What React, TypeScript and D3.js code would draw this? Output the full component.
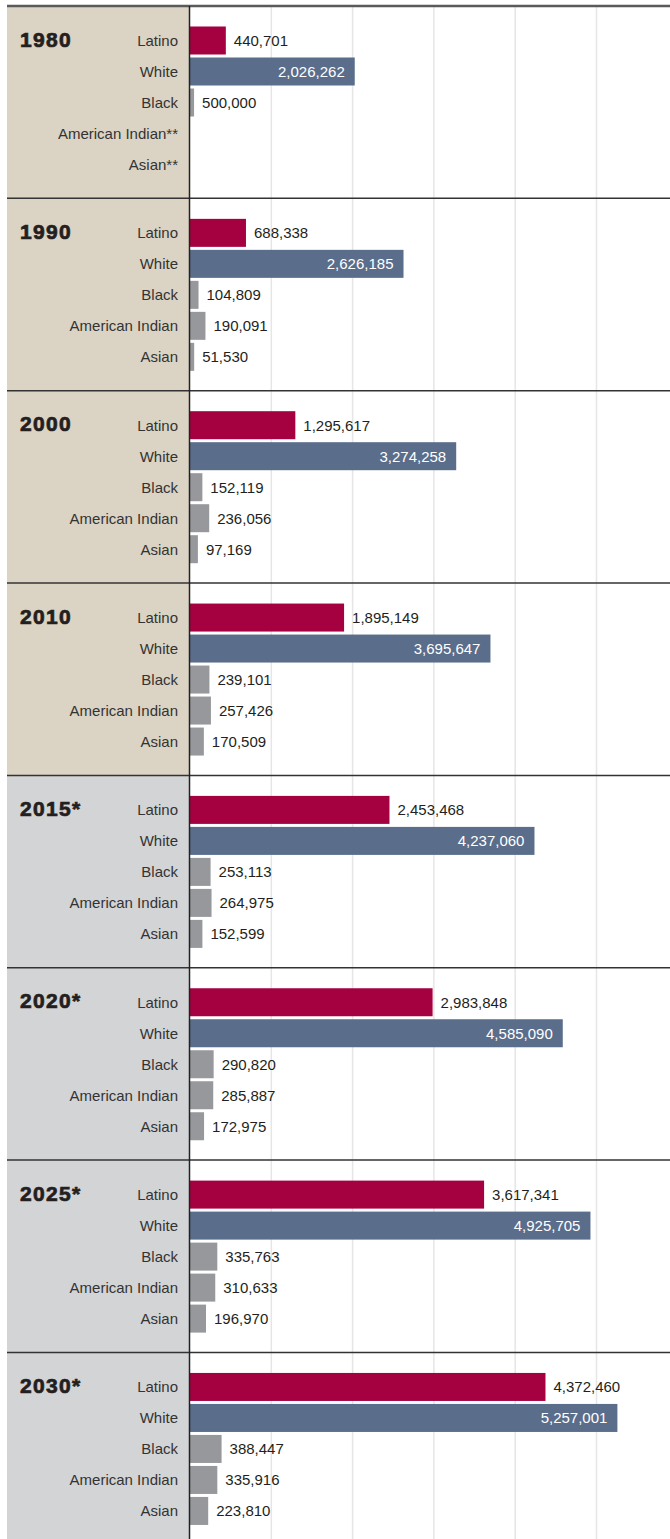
import React from "react";
import * as d3 from "d3";

const years = ["1980", "1990", "2000", "2010", "2015*", "2020*", "2025*", "2030*"];
const projected = [false, false, false, false, true, true, true, true];
const groups = ["Latino", "White", "Black", "American Indian", "Asian"];

const latino = [440701, 688338, 1295617, 1895149, 2453468, 2983848, 3617341, 4372460];
const white = [2026262, 2626185, 3274258, 3695647, 4237060, 4585090, 4925705, 5257001];
// The 1980 Black bar is drawn at ~50,000 in the source while its label reads "500,000".
const black = [50000, 104809, 152119, 239101, 253113, 290820, 335763, 388447];
const americanIndian = [null, 190091, 236056, 257426, 264975, 285887, 310633, 335916];
const asian = [null, 51530, 97169, 170509, 152599, 172975, 196970, 223810];
const printedLabels: Record<string, string> = { "1980|Black": "500,000" };

const gridTicks = [0, 1000000, 2000000, 3000000, 4000000, 5000000, 6000000];

const series: (number | null)[][] = [latino, white, black, americanIndian, asian];
const colors = ["#a50040", "#5a6d8b", "#97989c"];

const W = 670;
const H = 1539;
const LEFT = 7;
const AXIS = 190;
const TOP = 6;
const PANEL_H = 192.35;

export default function App() {
  const x = d3.scaleLinear().domain([0, 1000000]).range([AXIS, AXIS + 81.3]);
  const y = d3
    .scaleBand<number>()
    .domain(d3.range(groups.length))
    .range([20.5, 20.5 + 31 * groups.length - 3])
    .paddingInner(3 / 31)
    .paddingOuter(0);
  const fmt = d3.format(",");
  const font = "'Liberation Sans', Arial, Helvetica, sans-serif";

  return (
    <svg
      width={W}
      height={H}
      style={{ position: "absolute", left: 0, top: 0, display: "block" }}
      fontFamily={font}
    >
      <rect x={0} y={0} width={W} height={H} fill="#fff" />
      {years.map((yr, p) => (
        <rect
          key={"bg" + p}
          x={LEFT}
          y={TOP + p * PANEL_H}
          width={AXIS - LEFT}
          height={PANEL_H}
          fill={projected[p] ? "#d3d4d6" : "#dbd3c4"}
        />
      ))}
      {gridTicks.slice(1).map((t) => (
        <line key={"g" + t} x1={x(t)} x2={x(t)} y1={TOP} y2={H} stroke="#e6e6e6" strokeWidth={1.5} />
      ))}
      {years.map((yr, p) => {
        const top = TOP + p * PANEL_H;
        return (
          <g key={yr} transform={`translate(0,${top})`}>
            <text
              x={20}
              y={40.5}
              fontSize={21}
              fontWeight={900}
              fill="#231f20"
              stroke="#231f20"
              strokeWidth={0.7}
              letterSpacing={1.3}
            >
              {yr}
            </text>
            {groups.map((g, i) => {
              const v = series[i][p];
              const by = y(i)!;
              const bh = y.bandwidth();
              const cy = by + bh / 2;
              const ci = Math.min(i, 2);
              const label = printedLabels[yr + "|" + g] ?? (v == null ? "" : fmt(v));
              return (
                <g key={g}>
                  <text x={178} y={cy + 5.5} fontSize={15} fill="#333" textAnchor="end">
                    {g + (v == null ? "**" : "")}
                  </text>
                  {v != null && (
                    <rect x={AXIS} y={by} width={x(v) - AXIS} height={bh} fill={colors[ci]} />
                  )}
                  {v != null &&
                    (i === 1 ? (
                      <text x={x(v) - 10} y={cy + 5.5} fontSize={15} fill="#fff" textAnchor="end">
                        {label}
                      </text>
                    ) : (
                      <text x={x(v) + 8} y={cy + 5.5} fontSize={15} fill="#231f20">
                        {label}
                      </text>
                    ))}
                </g>
              );
            })}
          </g>
        );
      })}
      {years.map((yr, p) =>
        p === 0 ? null : (
          <line
            key={"sep" + p}
            x1={LEFT}
            x2={W}
            y1={TOP + p * PANEL_H}
            y2={TOP + p * PANEL_H}
            stroke="#333"
            strokeWidth={1.5}
          />
        )
      )}
      <line x1={LEFT} x2={W} y1={TOP} y2={TOP} stroke="#5a5a5a" strokeWidth={2.5} />
      <line x1={AXIS - 0.5} x2={AXIS - 0.5} y1={TOP} y2={H} stroke="#222" strokeWidth={1.5} />
    </svg>
  );
}
